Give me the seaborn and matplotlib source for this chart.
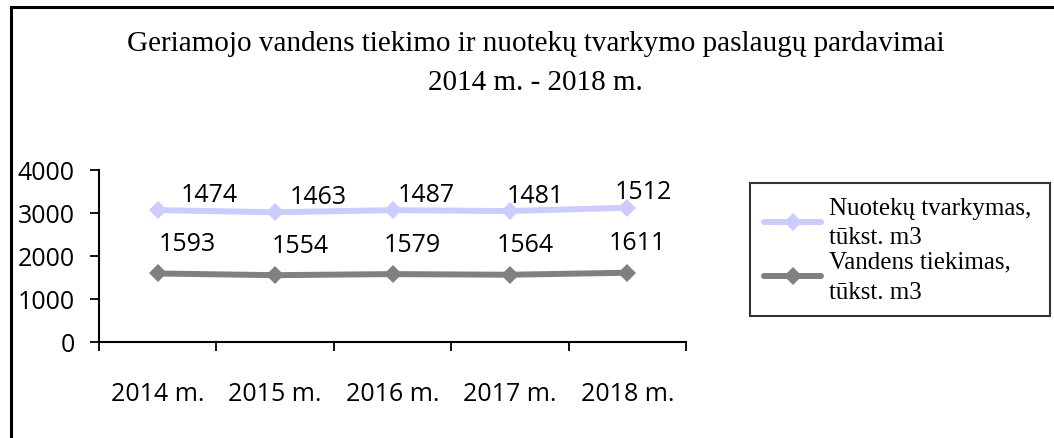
import numpy as np
import pandas as pd
import matplotlib
matplotlib.use("Agg")
import matplotlib.pyplot as plt
from matplotlib.patches import Rectangle
import seaborn as sns

years = ["2014 m.", "2015 m.", "2016 m.", "2017 m.", "2018 m."]
vandens = [1593, 1554, 1579, 1564, 1611]
nuoteku = [1474, 1463, 1487, 1481, 1512]
series_names = ["Nuotekų tvarkymas,\ntūkst. m3", "Vandens tiekimas,\ntūkst. m3"]
series_colors = ["#CCCCFF", "#808080"]

sns.set_style("white")
plt.rcParams["font.family"] = ["Open Sans", "DejaVu Sans"]
plt.rcParams["text.color"] = "black"
plt.rcParams["xtick.color"] = "black"
plt.rcParams["ytick.color"] = "black"

# stacked line chart: the second series sits on top of the first
x = np.arange(len(years))
stacked_top = np.array(vandens) + np.array(nuoteku)
df = pd.DataFrame({
    "x": np.concatenate([x, x]),
    "y": np.concatenate([stacked_top, vandens]),
    "label": np.concatenate([nuoteku, vandens]),
    "series": [series_names[0]] * len(x) + [series_names[1]] * len(x),
})

fig = plt.figure(figsize=(10.54, 4.39), dpi=100)
ax = fig.add_axes([0.0939, 0.2187, 0.557, 0.3918])

sns.lineplot(data=df, x="x", y="y", hue="series", palette=series_colors,
             hue_order=series_names, marker="D", markersize=8.7,
             markeredgewidth=0, linewidth=4.3, ax=ax, legend=True)

# data labels sit above and a little right of each point (drift left toward the end)
for _, r in df.iterrows():
    i = r["x"]
    if r["series"] == series_names[0]:
        dx, dy = 52 - 9 * i, 16
    else:
        dx, dy = 30 - 5 * i, 30
    ax.annotate(str(r["label"]), (r["x"], r["y"]), xytext=(dx, dy),
                textcoords="offset pixels", ha="center", va="center",
                fontsize=18, color="black")

ax.set_xlim(-0.5, len(years) - 0.5)
ax.set_ylim(0, 4000)
ax.set_yticks([0, 1000, 2000, 3000, 4000])
ax.set_xticks(np.arange(len(years) + 1) - 0.5)
ax.set_xticklabels([])
ax.set_xticks(x, minor=True)
ax.set_xticklabels(years, minor=True, fontsize=18)
ax.tick_params(axis="x", which="major", direction="out", length=6.5, width=1.3, color="black", bottom=True)
ax.tick_params(axis="x", which="minor", length=0, pad=28)
ax.tick_params(axis="y", direction="out", length=6.5, width=1.3, color="black", labelsize=18, left=True, pad=11)
ax.set_xlabel("")
ax.set_ylabel("")
sns.despine(ax=ax, top=True, right=True)
for s in ["left", "bottom"]:
    ax.spines[s].set_color("black")
    ax.spines[s].set_linewidth(1.5)

handles, labels = ax.get_legend_handles_labels()
ax.legend(handles, labels, loc="upper left", mode="expand",
          bbox_to_anchor=(0.7116, 0.3, 0.285, 0.2809), bbox_transform=fig.transFigure,
          frameon=True, fancybox=False, edgecolor="black",
          prop={"family": "Liberation Serif", "size": 18},
          handlelength=2.3, borderpad=0.55, labelspacing=0.1, handletextpad=0.3,
          borderaxespad=0)
leg = ax.get_legend()
leg.get_frame().set_linewidth(1.5)
for t in leg.get_texts():
    t.set_linespacing(1.45)

fig.text(0.508, 0.9, "Geriamojo vandens tiekimo ir nuotekų tvarkymo paslaugų pardavimai",
         ha="center", va="center", fontsize=21, family="Liberation Serif")
fig.text(0.508, 0.81, "2014 m. - 2018 m.", ha="center", va="center",
         fontsize=21, family="Liberation Serif")

fig.patches.append(Rectangle((0.0105, -0.05), 1.2, 1.032, transform=fig.transFigure,
                             fill=False, edgecolor="black", linewidth=2.2))

fig.savefig("out.png", dpi=100)
